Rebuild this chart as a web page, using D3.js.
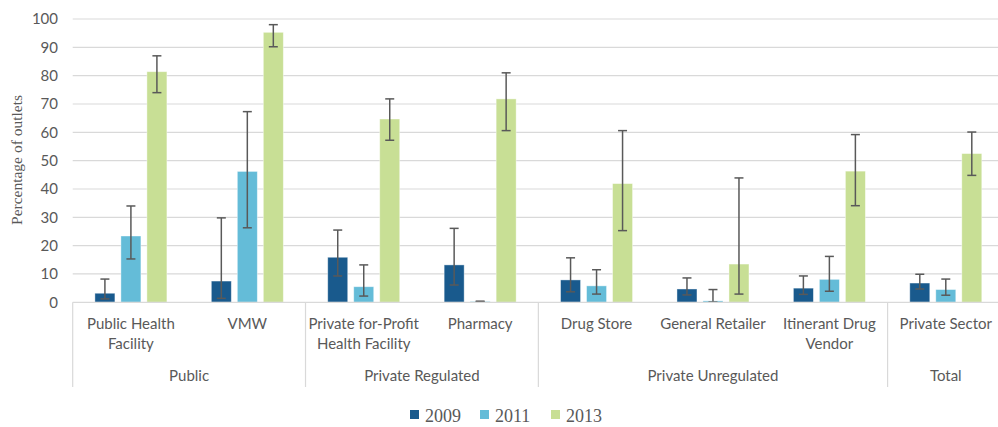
<!DOCTYPE html>
<html><head><meta charset="utf-8">
<script src="https://cdn.jsdelivr.net/npm/d3@7"></script>
<style>
body{margin:0;background:#fff;}
svg{display:block;}
</style></head>
<body><svg id="chart" width="998" height="427"></svg>
<script>
const categories = ["Public Health Facility","VMW","Private for-Profit Health Facility","Pharmacy","Drug Store","General Retailer","Itinerant Drug Vendor","Private Sector"];
const categoryLines = [["Public Health","Facility"],["VMW"],["Private for-Profit","Health Facility"],["Pharmacy"],["Drug Store"],["General Retailer"],["Itinerant Drug","Vendor"],["Private Sector"]];
const groups = [{name:"Public",from:0,to:1},{name:"Private Regulated",from:2,to:3},{name:"Private Unregulated",from:4,to:6},{name:"Total",from:7,to:7}];
const years = ["2009","2011","2013"];
const v2009 = [3.2, 7.5, 15.9, 13.2, 7.9, 4.7, 5.0, 6.8];
const lo2009 = [1.2, 1.4, 9.3, 6.1, 3.7, 2.6, 2.8, 4.7];
const hi2009 = [8.2, 29.8, 25.5, 26.1, 15.7, 8.6, 9.3, 9.9];
const v2011 = [23.4, 46.2, 5.5, 0.3, 5.8, 0.5, 8.1, 4.5];
const lo2011 = [15.3, 26.3, 2.2, 0.2, 2.9, 0.1, 3.9, 2.5];
const hi2011 = [34.0, 67.3, 13.2, 0.4, 11.5, 4.5, 16.2, 8.2];
const v2013 = [81.4, 95.3, 64.7, 71.8, 41.9, 13.5, 46.3, 52.5];
const lo2013 = [74.0, 90.2, 57.2, 60.6, 25.3, 2.9, 34.1, 44.8];
const hi2013 = [87.0, 98.0, 71.8, 81.0, 60.6, 43.9, 59.2, 60.1];
const yTicks = [0,10,20,30,40,50,60,70,80,90,100];
const colors = ["#195A8D","#64BCD8","#C8DF95"];

const series = [
  {year:"2009", v:v2009, lo:lo2009, hi:hi2009},
  {year:"2011", v:v2011, lo:lo2011, hi:hi2011},
  {year:"2013", v:v2013, lo:lo2013, hi:hi2013}
];

const svg = d3.select("#chart");
const pLeft = 72.7, pRight = 1004, pTop = 19, pBottom = 302.3;
const x0 = d3.scaleBand().domain(categories).range([pLeft, pRight]).padding(0);
const x1 = d3.scaleBand().domain(years).range([0, 72]).paddingInner(6/26).paddingOuter(0);
const y = d3.scaleLinear().domain([0,100]).range([pBottom, pTop]);
const font = "Lato, 'Open Sans', sans-serif";
const serif = "'Liberation Serif','DejaVu Serif',serif";
const txt = "#595959";

// gridlines
svg.append("g").selectAll("line").data(yTicks.slice(1)).join("line")
  .attr("x1", pLeft).attr("x2", 998).attr("y1", d=>y(d)).attr("y2", d=>y(d))
  .attr("stroke", "#D9D9D9").attr("stroke-width", 1.2);

// y tick labels
svg.append("g").selectAll("text").data(yTicks).join("text")
  .attr("x", 58).attr("y", d=>y(d)).attr("dy","0.35em").attr("text-anchor","end")
  .attr("font-family", font).attr("font-size", 15).attr("fill", txt).text(d=>d);

// y label
svg.append("text").attr("transform","translate(22,160) rotate(-90)")
  .attr("text-anchor","middle").attr("font-family",serif)
  .attr("font-size",15.5).attr("fill",txt).text("Percentage of outlets");

// bars
const cg = svg.append("g");
series.forEach((s,si)=>{
  const g = cg.append("g");
  g.selectAll("rect").data(categories).join("rect")
    .attr("x", (c)=>x0(c)+x0.bandwidth()/2-36+x1(s.year))
    .attr("width", x1.bandwidth())
    .attr("y", (c,i)=>y(s.v[i]))
    .attr("height", (c,i)=>y(0)-y(s.v[i]))
    .attr("fill", colors[si]).attr("stroke","#fff").attr("stroke-opacity",0.5).attr("stroke-width",0.8);
});
// error bars
series.forEach((s,si)=>{
  const g = cg.append("g").attr("stroke","#595959").attr("stroke-width",1.5).attr("fill","none");
  categories.forEach((c,i)=>{
    const cx = x0(c)+x0.bandwidth()/2-36+x1(s.year)+x1.bandwidth()/2;
    const yl = y(s.lo[i]), yh = y(s.hi[i]);
    g.append("line").attr("x1",cx).attr("x2",cx).attr("y1",yl).attr("y2",yh);
    g.append("line").attr("x1",cx-4.5).attr("x2",cx+4.5).attr("y1",yl).attr("y2",yl);
    g.append("line").attr("x1",cx-4.5).attr("x2",cx+4.5).attr("y1",yh).attr("y2",yh);
  });
});

// x axis line
svg.append("line").attr("x1",pLeft).attr("x2",998).attr("y1",pBottom).attr("y2",pBottom)
  .attr("stroke","#D9D9D9").attr("stroke-width",1.2);
// separators
const seps = [0].concat(groups.map(g=>g.to+1)).filter(i=>i<categories.length);
svg.append("g").selectAll("line").data(seps).join("line")
  .attr("x1", i=>x0(categories[i])).attr("x2", i=>x0(categories[i]))
  .attr("y1", pBottom).attr("y2", 387).attr("stroke","#D9D9D9").attr("stroke-width",1.2);

// category labels
const cl = svg.append("g").attr("font-family",font).attr("font-size",15).attr("fill",txt).attr("text-anchor","middle");
categories.forEach((c,i)=>{
  const t = cl.append("text").attr("x", x0(c)+x0.bandwidth()/2).attr("y", 329);
  categoryLines[i].forEach((ln,j)=>{
    t.append("tspan").attr("x", x0(c)+x0.bandwidth()/2).attr("dy", j===0?0:19.5).text(ln);
  });
});
// group labels
svg.append("g").selectAll("text").data(groups).join("text")
  .attr("x", g=>(x0(categories[g.from]) + x0(categories[g.to]) + x0.bandwidth())/2)
  .attr("y", 381).attr("text-anchor","middle").attr("font-family",font).attr("font-size",15).attr("fill",txt)
  .text(g=>g.name);

// legend
const legX = [410, 480, 551];
const lg = svg.append("g");
years.forEach((yr,i)=>{
  lg.append("rect").attr("x",legX[i]).attr("y",410).attr("width",9).attr("height",9).attr("fill",colors[i]);
  lg.append("text").attr("x",legX[i]+15).attr("y",421.5).attr("font-family",serif)
    .attr("font-size",18).attr("fill",txt).text(yr);
});
</script></body></html>
